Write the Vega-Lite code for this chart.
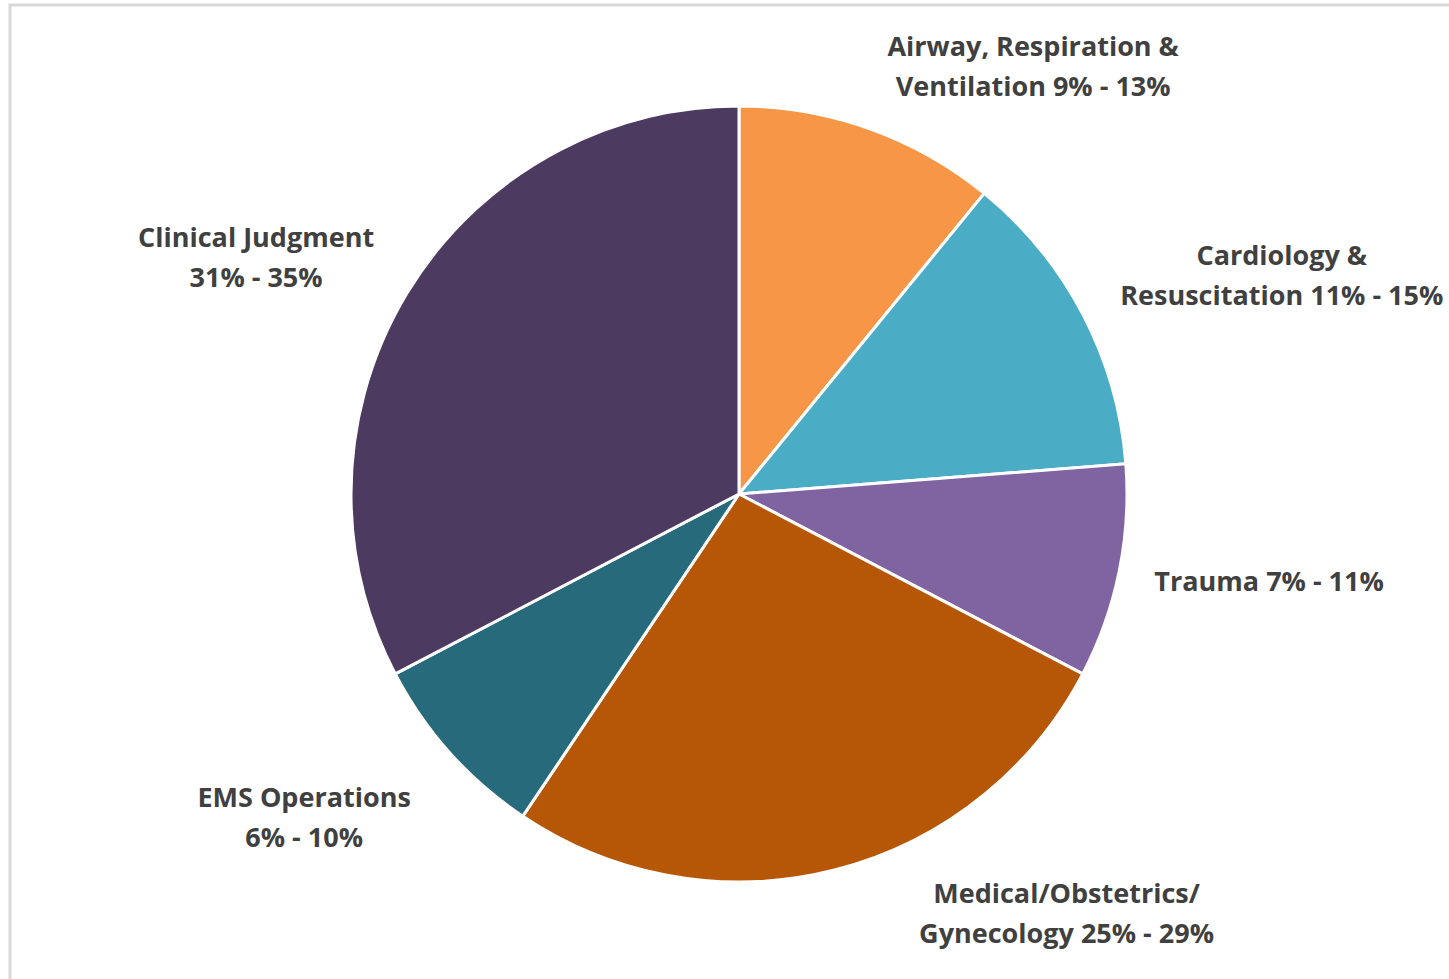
{
  "$schema": "https://vega.github.io/schema/vega-lite/v6.json",
  "autosize": "none",
  "padding": {"left": 10, "top": 5, "right": 0, "bottom": 0},
  "width": 1458,
  "height": 978,
  "background": "white",
  "view": {"stroke": "#d9d9d9", "strokeWidth": 3, "fill": "white"},
  "data": {
    "values": [
      {"i": 1, "cat": "Airway", "value": 11, "label": "Airway, Respiration &\nVentilation 9% - 13%"},
      {"i": 2, "cat": "Cardiology", "value": 13, "label": "Cardiology &\nResuscitation 11% - 15%"},
      {"i": 3, "cat": "Trauma", "value": 9, "label": "Trauma 7% - 11%"},
      {"i": 4, "cat": "Medical", "value": 27, "label": "Medical/Obstetrics/\nGynecology 25% - 29%"},
      {"i": 5, "cat": "EMS", "value": 8, "label": "EMS Operations\n6% - 10%"},
      {"i": 6, "cat": "Clinical", "value": 33, "label": "Clinical Judgment\n31% - 35%"}
    ]
  },
  "encoding": {
    "theta": {"field": "value", "type": "quantitative", "stack": true},
    "order": {"field": "i", "type": "quantitative"}
  },
  "layer": [
    {
      "mark": {"type": "arc", "radius": 388, "stroke": "white", "strokeWidth": 3},
      "encoding": {
        "color": {
          "field": "cat",
          "type": "nominal",
          "legend": null,
          "scale": {
            "domain": ["Airway", "Cardiology", "Trauma", "Medical", "EMS", "Clinical"],
            "range": ["#F79646", "#4BACC6", "#8064A2", "#B65708", "#276A7B", "#4D3A61"]
          }
        }
      }
    },
    {
      "mark": {
        "type": "text",
        "radius": 388,
        "font": "Open Sans",
        "fontWeight": "bold",
        "fontSize": 27,
        "lineHeight": 40,
        "lineBreak": "\n",
        "color": "#404040",
        "align": "center",
        "baseline": "middle",
        "dx": {"expr": "datum.cat === 'Airway' ? 164 : datum.cat === 'Cardiology' ? 199 : datum.cat === 'Trauma' ? 150 : datum.cat === 'Medical' ? 232 : datum.cat === 'EMS' ? -146 : -151"},
        "dy": {"expr": "datum.cat === 'Airway' ? -80 : datum.cat === 'Cardiology' ? -57 : datum.cat === 'Trauma' ? 11 : datum.cat === 'Medical' ? 25 : datum.cat === 'EMS' ? 46 : -54"}
      },
      "encoding": {
        "text": {"field": "label", "type": "nominal"}
      }
    }
  ]
}
